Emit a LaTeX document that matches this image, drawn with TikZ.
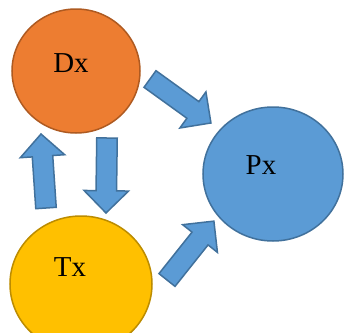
\documentclass[tikz,border=0pt]{standalone}
\usepackage{fontspec}
\setmainfont{Liberation Serif}
\usetikzlibrary{
    calc,
    shapes.geometric,
    shapes.arrows
}
\definecolor{dxfill}{RGB}{237,125,49}
\definecolor{dxline}{RGB}{174,90,33}
\definecolor{txfill}{RGB}{255,192,0}
\definecolor{txline}{RGB}{188,140,0}
\definecolor{pxfill}{RGB}{91,155,213}
\definecolor{pxline}{RGB}{65,113,156}
\tikzset{
    line join=round,
    bubble/.style={
        ellipse,
        line width=1.5bp,
        inner sep=0pt,
        outer sep=0pt
    },
    dxnode/.style={bubble, fill=dxfill, draw=dxline, minimum width=128bp, minimum height=124bp},
    txnode/.style={bubble, fill=txfill, draw=txline, minimum width=142bp, minimum height=136bp},
    pxnode/.style={bubble, fill=pxfill, draw=pxline, minimum width=140bp, minimum height=134bp},
    caption/.style={
        font=\fontsize{29}{29}\selectfont,
        text=black,
        inner sep=0pt
    },
    blockarrow/.style={
        single arrow,
        fill=pxfill,
        draw=pxline,
        line width=1.5bp,
        inner xsep=0pt,
        inner ysep=9.5bp,
        outer sep=0pt,
        single arrow head extend=12bp,
        single arrow tip angle=90,
        anchor=tail
    }
}
% block arrow from one named coordinate to another
\newcommand\blockarrow[2]{%
    \path let \p1=($(#2)-(#1)$), \n1={veclen(\x1,\y1)}, \n2={atan2(\y1,\x1)} in
        node[blockarrow, minimum height=\n1, rotate=\n2] at (#1) {};
}

\begin{document}
\begin{tikzpicture}[x=1bp, y=-1bp]
    \useasboundingbox (0,0) rectangle (344,333);

    % Circles
    \node[dxnode] (dx) at (76,71) {};
    \node[pxnode] (px) at (273,174) {};
    \node[txnode] (tx) at (81,284) {};

    % Labels
    \node[caption] (dxlabel) at ([shift={(-5,-8)}]dx.center) {Dx};
    \node[caption] (pxlabel) at ([shift={(-12,-9)}]px.center) {Px};
    \node[caption] (txlabel) at ([shift={(-11,-17)}]tx.center) {Tx};

    % Arrow ends
    \coordinate (dxpxtail) at (150,79);
    \coordinate (dxpxtip) at (211,123);
    \coordinate (dxtxtail) at (107,138);
    \coordinate (dxtxtip) at (106,213);
    \coordinate (txdxtail) at (46,208);
    \coordinate (txdxtip) at (41,134);
    \coordinate (txpxtail) at (167,280);
    \coordinate (txpxtip) at (214,221);

    % Arrows
    \blockarrow{dxpxtail}{dxpxtip}
    \blockarrow{dxtxtail}{dxtxtip}
    \blockarrow{txdxtail}{txdxtip}
    \blockarrow{txpxtail}{txpxtip}
\end{tikzpicture}
\end{document}
